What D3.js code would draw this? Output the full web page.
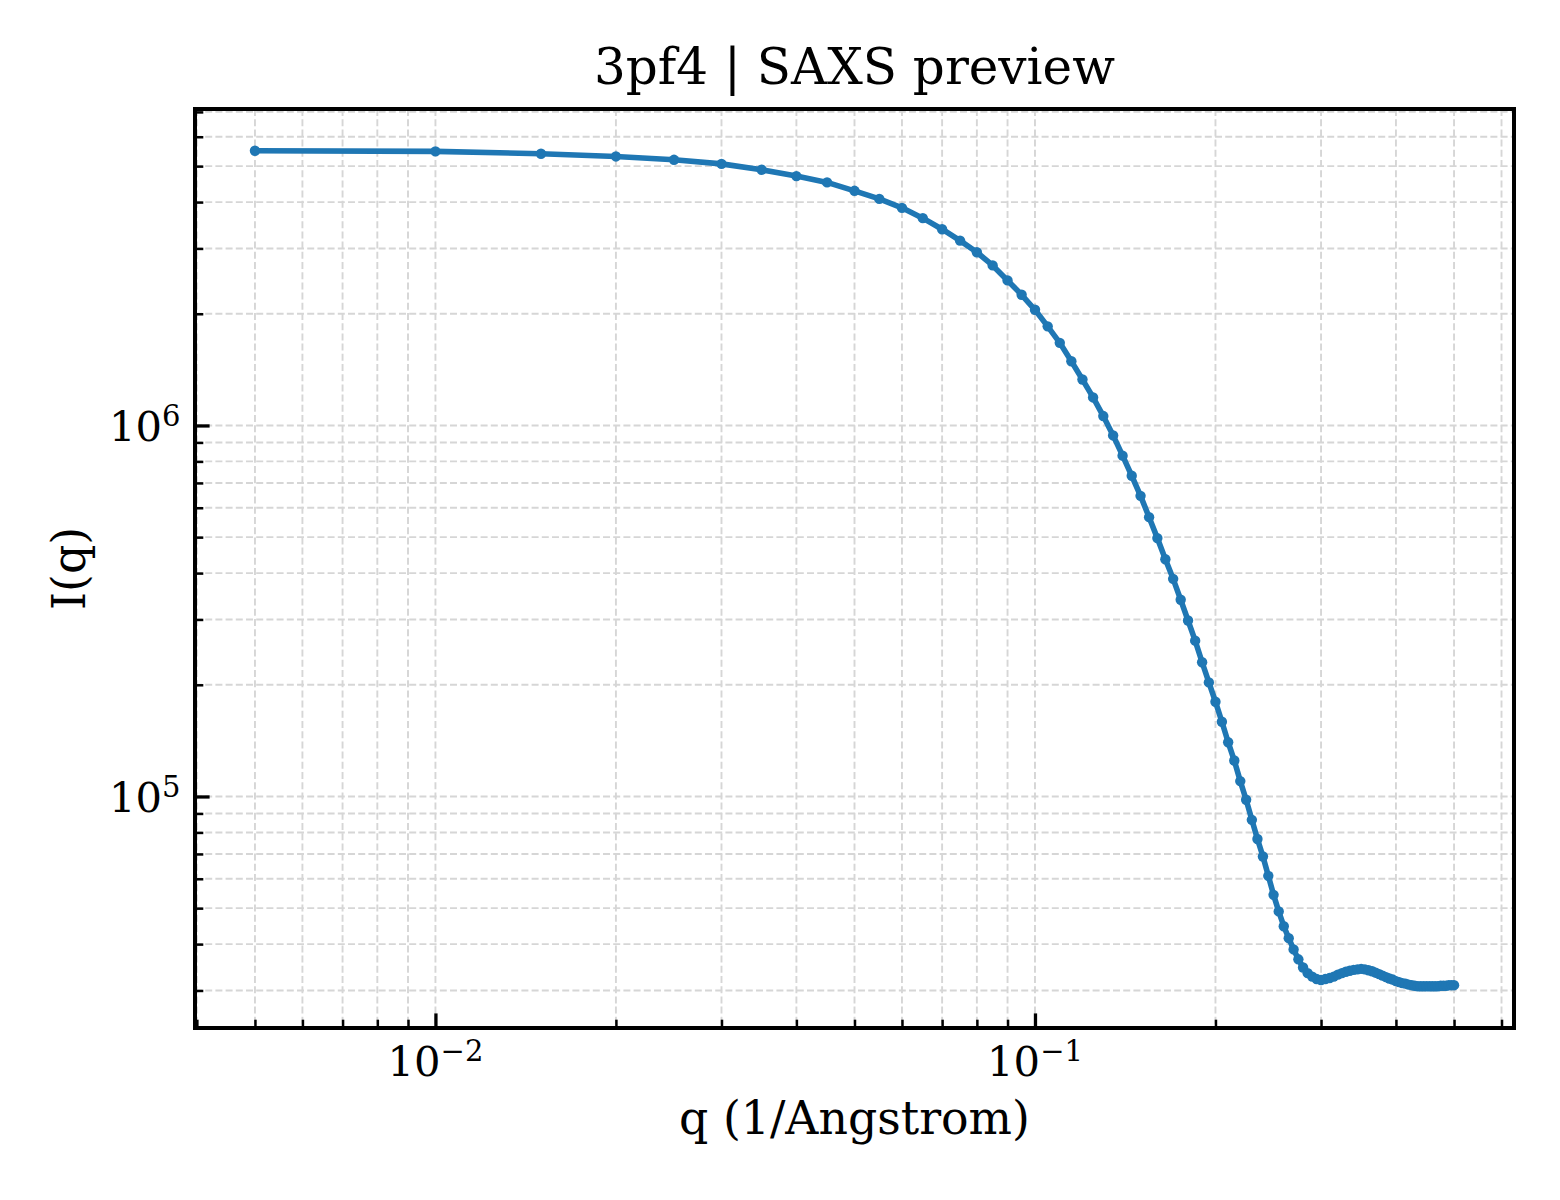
<!DOCTYPE html>
<html>
<head>
<meta charset="utf-8">
<script src="https://cdn.jsdelivr.net/npm/d3@7/dist/d3.min.js"></script>
<style>
  body { margin: 0; background: #fff; }
  svg text { font-family: "DejaVu Serif", serif; fill: #000; }
</style>
</head>
<body>
<div id="chart"></div>
<script>

// q (1/Angstrom)
var qValues = [
  0.005, 0.010, 0.015, 0.020, 0.025, 0.030, 0.035, 0.040, 0.045, 0.050,
  0.055, 0.060, 0.065, 0.070, 0.075, 0.080, 0.085, 0.090, 0.095, 0.100,
  0.105, 0.110, 0.115, 0.120, 0.125, 0.130, 0.135, 0.140, 0.145, 0.150,
  0.155, 0.160, 0.165, 0.170, 0.175, 0.180, 0.185, 0.190, 0.195, 0.200,
  0.205, 0.210, 0.215, 0.220, 0.225, 0.230, 0.235, 0.240, 0.245, 0.250,
  0.255, 0.260, 0.265, 0.270, 0.275, 0.280, 0.285, 0.290, 0.295, 0.300,
  0.305, 0.310, 0.315, 0.320, 0.325, 0.330, 0.335, 0.340, 0.345, 0.350,
  0.355, 0.360, 0.365, 0.370, 0.375, 0.380, 0.385, 0.390, 0.395, 0.400,
  0.405, 0.410, 0.415, 0.420, 0.425, 0.430, 0.435, 0.440, 0.445, 0.450,
  0.455, 0.460, 0.465, 0.470, 0.475, 0.480, 0.485, 0.490, 0.495, 0.500
];

// I(q)
var intensity = [
  5.50e6, 5.48e6, 5.40e6, 5.31e6, 5.20e6, 5.07e6, 4.89e6, 4.70e6, 4.52e6, 4.29e6,
  4.08e6, 3.86e6, 3.62e6, 3.38e6, 3.15e6, 2.93e6, 2.70e6, 2.46e6, 2.25e6, 2.05e6,
  1.85e6, 1.67e6, 1.49e6, 1.33e6, 1.19e6, 1.06e6, 9.40e5, 8.29e5, 7.32e5, 6.46e5,
  5.66e5, 4.97e5, 4.36e5, 3.86e5, 3.39e5, 2.98e5, 2.63e5, 2.30e5, 2.03e5, 1.80e5,
  1.59e5, 1.40e5, 1.25e5, 1.10e5, 9.80e4, 8.65e4, 7.68e4, 6.89e4, 6.11e4, 5.43e4,
  4.90e4, 4.47e4, 4.15e4, 3.87e4, 3.64e4, 3.46e4, 3.34e4, 3.27e4, 3.22e4, 3.20e4,
  3.22e4, 3.24e4, 3.27e4, 3.31e4, 3.34e4, 3.37e4, 3.39e4, 3.41e4, 3.42e4, 3.43e4,
  3.42e4, 3.40e4, 3.38e4, 3.35e4, 3.32e4, 3.29e4, 3.26e4, 3.23e4, 3.21e4, 3.18e4,
  3.16e4, 3.14e4, 3.13e4, 3.11e4, 3.10e4, 3.09e4, 3.08e4, 3.08e4, 3.08e4, 3.08e4,
  3.08e4, 3.08e4, 3.08e4, 3.08e4, 3.09e4, 3.09e4, 3.09e4, 3.10e4, 3.10e4, 3.10e4
];

// labelled decades
var xTickExponents = [-2, -1];
var yTickExponents = [5, 6];

var titleText = "3pf4 | SAXS preview";
var xLabelText = "q (1/Angstrom)";
var yLabelText = "I(q)";

var width = 1560, height = 1200;
var margin = {left: 195, right: 46, top: 109, bottom: 172};
var plotW = width - margin.left - margin.right;
var plotH = height - margin.top - margin.bottom;

// log extent padded by 5% on each side
function padLog(ext) {
  var a = Math.log10(ext[0]), b = Math.log10(ext[1]);
  var p = (b - a) * 0.05;
  return [Math.pow(10, a - p), Math.pow(10, b + p)];
}

var x = d3.scaleLog().domain(padLog(d3.extent(qValues))).range([0, plotW]);
var y = d3.scaleLog().domain(padLog(d3.extent(intensity))).range([plotH, 0]);

function isDecade(d) {
  var l = Math.log10(d);
  return Math.abs(l - Math.round(l)) < 1e-6;
}

var xAll = x.ticks();
var yAll = y.ticks();
var xMajor = xTickExponents.map(function(e) { return Math.pow(10, e); });
var yMajor = yTickExponents.map(function(e) { return Math.pow(10, e); });
var xMinor = xAll.filter(function(d) { return !isDecade(d); });
var yMinor = yAll.filter(function(d) { return !isDecade(d); });

var svg = d3.select("#chart")
  .append("svg")
  .attr("width", width)
  .attr("height", height)
  .style("background", "#fff");

var g = svg.append("g")
  .attr("transform", "translate(" + margin.left + "," + margin.top + ")");

// grid, major and minor
var grid = g.append("g").attr("class", "grid")
  .style("stroke", "#d6d6d6")
  .style("stroke-width", 1.9)
  .style("stroke-dasharray", "7,3.2");

grid.selectAll(".gx")
  .data(xAll)
  .enter()
  .append("line")
  .attr("class", "gx")
  .attr("x1", function(d) { return x(d); })
  .attr("x2", function(d) { return x(d); })
  .attr("y1", 0)
  .attr("y2", plotH);

grid.selectAll(".gy")
  .data(yAll)
  .enter()
  .append("line")
  .attr("class", "gy")
  .attr("y1", function(d) { return y(d); })
  .attr("y2", function(d) { return y(d); })
  .attr("x1", 0)
  .attr("x2", plotW);

// data line + markers
var line = d3.line()
  .x(function(d, i) { return x(qValues[i]); })
  .y(function(d) { return y(d); });

g.append("path")
  .datum(intensity)
  .attr("d", line)
  .style("fill", "none")
  .style("stroke", "#1f77b4")
  .style("stroke-width", 5.6)
  .style("stroke-linejoin", "round")
  .style("stroke-linecap", "round");

g.selectAll(".pt")
  .data(intensity)
  .enter()
  .append("circle")
  .attr("class", "pt")
  .attr("cx", function(d, i) { return x(qValues[i]); })
  .attr("cy", function(d) { return y(d); })
  .attr("r", 5.2)
  .style("fill", "#1f77b4");

// inward ticks, left and bottom only
function styleAxis(sel, w) {
  sel.select(".domain").remove();
  sel.selectAll(".tick line").style("stroke", "#000").style("stroke-width", w);
  sel.selectAll(".tick text").remove();
}

g.append("g")
  .attr("transform", "translate(0," + plotH + ")")
  .call(d3.axisBottom(x).tickValues(xMinor).tickSize(-8.3).tickFormat(""))
  .call(styleAxis, 2.5);

g.append("g")
  .attr("transform", "translate(0," + plotH + ")")
  .call(d3.axisBottom(x).tickValues(xMajor).tickSize(-14.6).tickFormat(""))
  .call(styleAxis, 3.3);

g.append("g")
  .call(d3.axisLeft(y).tickValues(yMinor).tickSize(-8.3).tickFormat(""))
  .call(styleAxis, 2.5);

g.append("g")
  .call(d3.axisLeft(y).tickValues(yMajor).tickSize(-14.6).tickFormat(""))
  .call(styleAxis, 3.3);

// frame
g.append("rect")
  .attr("x", 0)
  .attr("y", 0)
  .attr("width", plotW)
  .attr("height", plotH)
  .style("fill", "none")
  .style("stroke", "#000")
  .style("stroke-width", 4);

// tick labels as 10^n
var xl = g.selectAll(".xlab")
  .data(xTickExponents)
  .enter()
  .append("text")
  .attr("class", "xlab")
  .attr("x", function(d) { return x(Math.pow(10, d)); })
  .attr("y", plotH + 48)
  .attr("text-anchor", "middle")
  .style("font-size", "41.7px");
xl.append("tspan").text("10");
xl.append("tspan")
  .attr("dy", -15.5)
  .style("font-size", "29px")
  .text(function(d) { return (d < 0 ? "\u2212" : "") + Math.abs(d); });

var yl = g.selectAll(".ylab")
  .data(yTickExponents)
  .enter()
  .append("text")
  .attr("class", "ylab")
  .attr("x", -14.6)
  .attr("y", function(d) { return y(Math.pow(10, d)) + 16; })
  .attr("text-anchor", "end")
  .style("font-size", "41.7px");
yl.append("tspan").text("10");
yl.append("tspan")
  .attr("dy", -15.5)
  .style("font-size", "29px")
  .text(function(d) { return (d < 0 ? "\u2212" : "") + Math.abs(d); });

// title and axis labels
svg.append("text")
  .attr("x", margin.left + plotW / 2)
  .attr("y", 84)
  .attr("text-anchor", "middle")
  .style("font-size", "50px")
  .text(titleText);

svg.append("text")
  .attr("x", margin.left + plotW / 2)
  .attr("y", 1134)
  .attr("text-anchor", "middle")
  .style("font-size", "45.8px")
  .text(xLabelText);

svg.append("text")
  .attr("transform", "translate(85," + (margin.top + plotH / 2) + ") rotate(-90)")
  .attr("text-anchor", "middle")
  .style("font-size", "45.8px")
  .text(yLabelText);

</script>
</body>
</html>
